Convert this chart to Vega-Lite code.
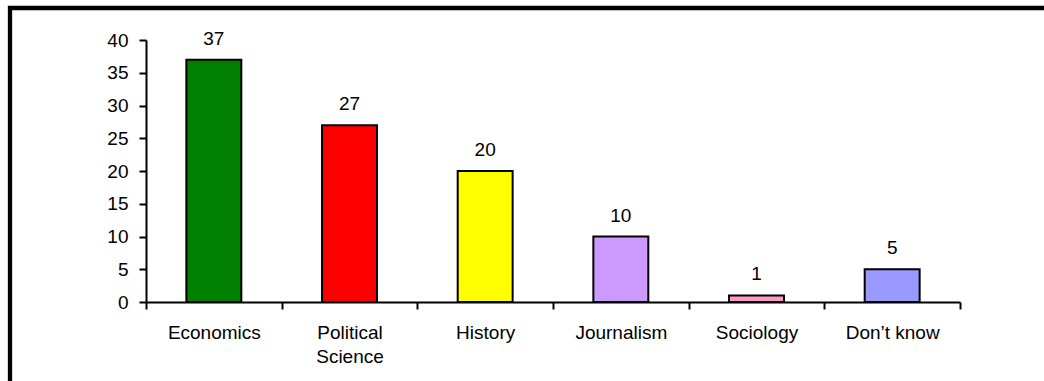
{
  "$schema": "https://vega.github.io/schema/vega-lite/v6.json",
  "width": 1040,
  "height": 380,
  "autosize": {"type": "none"},
  "padding": {"left": 10, "top": 8, "right": 0, "bottom": 0},
  "background": "white",
  "config": {
    "view": {"stroke": "black", "strokeWidth": 4.3},
    "font": "Liberation Sans",
    "axis": {"grid": false, "domainColor": "black", "domainWidth": 2, "tickColor": "black", "tickWidth": 2, "labelColor": "black", "labelFont": "Liberation Sans", "labelFontSize": 19, "title": null}
  },
  "data": {
    "values": [
      {"major": "Economics", "count": 37},
      {"major": "Political Science", "count": 27},
      {"major": "History", "count": 20},
      {"major": "Journalism", "count": 10},
      {"major": "Sociology", "count": 1},
      {"major": "Don’t know", "count": 5}
    ]
  },
  "encoding": {
    "x": {
      "field": "major",
      "type": "nominal",
      "sort": null,
      "scale": {"range": [136, 950], "paddingInner": 0, "paddingOuter": 0},
      "axis": {
        "orient": "bottom",
        "offset": -86,
        "tickBand": "extent",
        "tickSize": 7,
        "labelAngle": 0,
        "labelPadding": 14,
        "labelLineHeight": 24,
        "labelOverlap": false,
        "labelLimit": 0,
        "labelExpr": "datum.value == 'Political Science' ? ['Political', 'Science'] : datum.value"
      }
    },
    "y": {
      "field": "count",
      "type": "quantitative",
      "scale": {"domain": [0, 40], "range": [294, 32], "nice": false},
      "axis": {
        "orient": "left",
        "offset": -136,
        "values": [0, 5, 10, 15, 20, 25, 30, 35, 40],
        "tickSize": 7,
        "labelPadding": 11
      }
    }
  },
  "layer": [
    {
      "mark": {"type": "bar", "width": {"band": 0.405}, "stroke": "black", "strokeWidth": 2},
      "encoding": {
        "color": {
          "field": "major",
          "type": "nominal",
          "scale": {
            "domain": ["Economics", "Political Science", "History", "Journalism", "Sociology", "Don’t know"],
            "range": ["#008000", "#FF0000", "#FFFF00", "#CC99FF", "#FF99CC", "#9999FF"]
          },
          "legend": null
        }
      }
    },
    {
      "mark": {"type": "text", "baseline": "alphabetic", "dy": -15, "fontSize": 19, "font": "Liberation Sans", "fill": "black"},
      "encoding": {"text": {"field": "count", "type": "quantitative"}}
    }
  ]
}
